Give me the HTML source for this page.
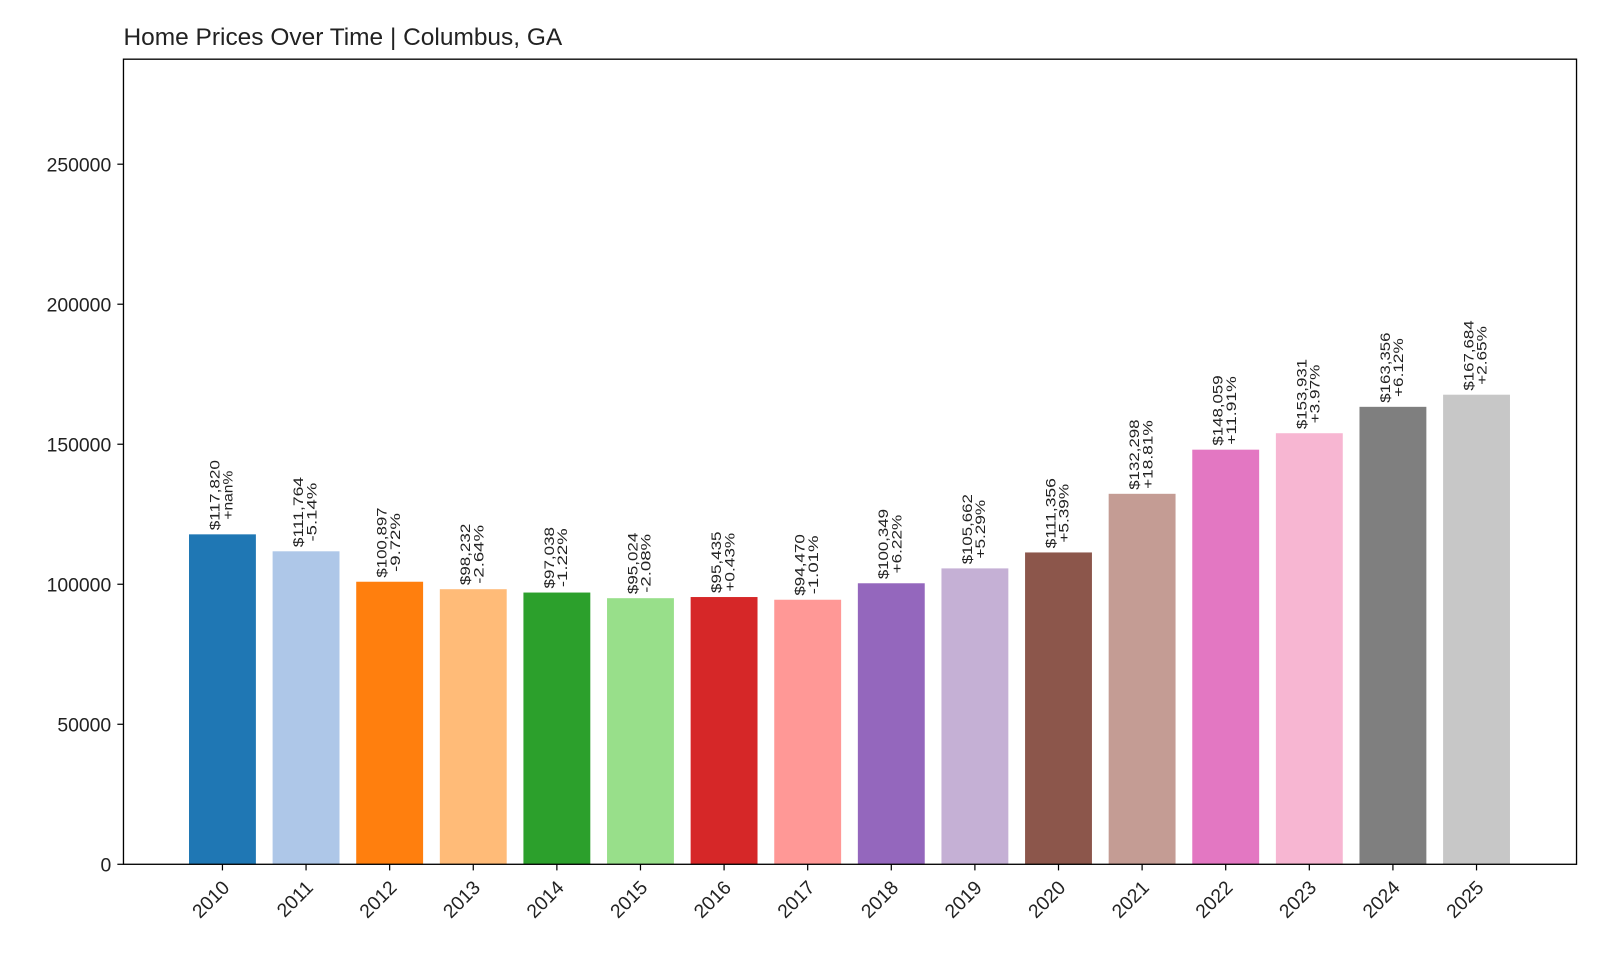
<!DOCTYPE html>
<html><head><meta charset="utf-8"><style>
body{margin:0;background:#fff;}
svg text{font-family:"Liberation Sans","DejaVu Sans",sans-serif;fill:#222;}
</style></head><body>
<svg id="chart" width="1600" height="960" viewBox="0 0 1568 940.8" preserveAspectRatio="none" xmlns="http://www.w3.org/2000/svg">
<rect width="1568" height="941" fill="#fff"/>
<text x="121" y="44" font-size="24" fill="#222">Home Prices Over Time | Columbus, GA</text>
<g id="plot"></g>
<rect x="121" y="58" width="1424" height="789" fill="none" stroke="#000" stroke-width="1.3"/>
</svg>
<script>
const years = [2010,2011,2012,2013,2014,2015,2016,2017,2018,2019,2020,2021,2022,2023,2024,2025];
const prices = [117820,111764,100897,98232,97038,95024,95435,94470,100349,105662,111356,132298,148059,153931,163356,167684];
const changes = ["+nan%","-5.14%","-9.72%","-2.64%","-1.22%","-2.08%","+0.43%","-1.01%","+6.22%","+5.29%","+5.39%","+18.81%","+11.91%","+3.97%","+6.12%","+2.65%"];
const yTicks = [0,50000,100000,150000,200000,250000];
const colors = ["#1f77b4","#aec7e8","#ff7f0e","#ffbb78","#2ca02c","#98df8a","#d62728","#ff9896","#9467bd","#c5b0d5","#8c564b","#c49c94","#e377c2","#f7b6d2","#7f7f7f","#c7c7c7"];
const L=121,R=1545,T=58,B=847,YMAX=287500;
const step=(1447-218)/15;
const x=i=>218+i*step;
const y=v=>B-(v/YMAX)*(B-T);
const NS="http://www.w3.org/2000/svg";
const g=document.getElementById('plot');
function mk(tag,attrs){const e=document.createElementNS(NS,tag);for(const k in attrs)e.setAttribute(k,attrs[k]);g.appendChild(e);return e;}
yTicks.forEach(v=>{
  const t=mk('line',{x1:L-6,x2:L,y1:y(v),y2:y(v),stroke:'#000','stroke-width':1.2});
  
  
  const lb=mk('text',{x:L-12,y:y(v)+7,'text-anchor':'end','font-size':19});
  
  
  lb.textContent=v;
});
const bw=step*0.8;
years.forEach((yr,i)=>{
  const cx=x(i),top=y(prices[i]);
  const r=mk('rect',{x:cx-bw/2,y:top,width:bw,height:B-top,fill:colors[i]});
  
  
  const tk=mk('line',{x1:cx,x2:cx,y1:B,y2:B+6,stroke:'#000','stroke-width':1.2});
  
  
  const xl=mk('text',{transform:`translate(${cx+8},${B+24}) rotate(-45)`,'text-anchor':'end','font-size':19});
  
  
  xl.textContent=yr;
  const ps='$'+prices[i].toLocaleString('en-US');
  const pw=ps.length*8.6;
  const cw=changes[i].length*9.6;
  const mid=top-4-pw/2;
  const t1=mk('text',{transform:`translate(${cx-3},${mid}) rotate(-90)`,'text-anchor':'middle','font-size':14,textLength:pw,lengthAdjust:'spacingAndGlyphs'});
  
  
  t1.textContent=ps;
  const t2=mk('text',{transform:`translate(${cx+10},${mid}) rotate(-90)`,'text-anchor':'middle','font-size':14,textLength:cw,lengthAdjust:'spacingAndGlyphs'});
  
  
  t2.textContent=changes[i];
});
</script>
</body></html>
